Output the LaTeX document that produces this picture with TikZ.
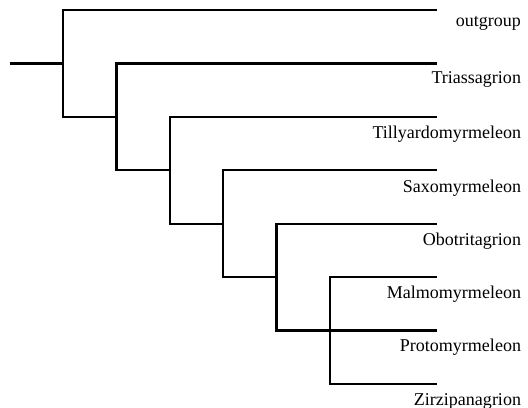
\documentclass[tikz,border=0pt]{standalone}
\usepackage{fontspec}
\setmainfont{Liberation Serif}
\begin{document}
\begin{tikzpicture}[y=-1cm, line width=1.2pt, font=\fontsize{9.6}{11}\selectfont]
\useasboundingbox (-0.18,-0.19) rectangle (9.71,7.45);
\foreach \i/\name/\dy in {0/outgroup/.3,1/Triassagrion/.38,2/Tillyardomyrmeleon/.41,3/Saxomyrmeleon/.41,4/Obotritagrion/.41,5/Malmomyrmeleon/.41,6/Protomyrmeleon/.4,7/Zirzipanagrion/.41}
{
    \coordinate (t\i) at (8,\i);
    \node (l\i) at (9.6,\i+\dy)[anchor=base east, inner sep=0pt]{\name};
}
\foreach \k in {1,...,6}
{
    \coordinate (n\k) at (\k,\k);
}
\coordinate (root) at (0,1);
\draw (root)--(n1);
\foreach \a/\b in {1/0,2/1,3/2,4/3,5/4}
{
    \draw (n\a) |- (t\b);
}
\foreach \a/\b in {1/2,2/3,3/4,4/5}
{
    \draw (n\a) |- (n\b);
}
\draw (n5) |- (n6)--(t6);
\draw (n6) |- (t5);
\draw (n6) |- (t7);
\end{tikzpicture}
\end{document}
